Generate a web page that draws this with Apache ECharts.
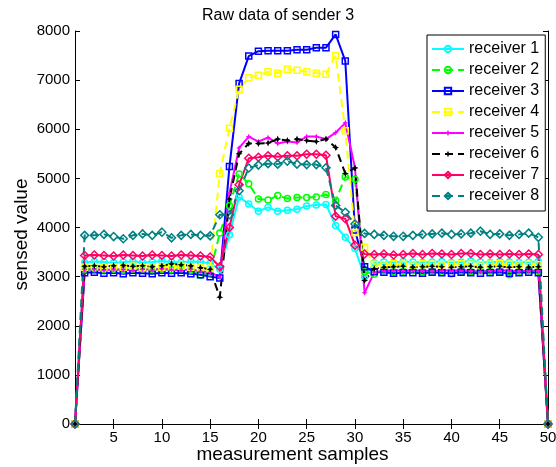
<!DOCTYPE html>
<html>
<head>
<meta charset="utf-8">
<script src="https://cdn.jsdelivr.net/npm/echarts@6/dist/echarts.min.js"></script>
<style>
  html, body { margin: 0; padding: 0; background: #fff; }
  #chart { width: 556px; height: 467px; }
</style>
</head>
<body>
<div id="chart"></div>
<script>
// measurement sample index 1..50
const samples = Array.from({ length: 50 }, (_, i) => i + 1)
const xTicks = [5, 10, 15, 20, 25, 30, 35, 40, 45, 50]

const receiver1 = [0,
  3290, 3310, 3300, 3280, 3300, 3310, 3290, 3300, 3320, 3300, 3290, 3310, 3300, 3270,
  3150, 3850, 4620, 4480, 4330, 4410, 4330, 4350, 4370, 4440, 4460, 4470, 4040, 3800, 3570, 3000,
  3280, 3300, 3290, 3310, 3300, 3290, 3300, 3310, 3290, 3300, 3320, 3300, 3290, 3310, 3300, 3290, 3300, 3310,
  0]
const receiver2 = [0,
  3150, 3160, 3140, 3150, 3130, 3150, 3160, 3140, 3150, 3140, 3160, 3130, 3030, 3080,
  3890, 4450, 5090, 4890, 4580, 4560, 4650, 4590, 4610, 4610, 4620, 4670, 4550, 5030, 4980, 3100,
  3050, 3120, 3100, 3110, 3120, 3100, 3110, 3090, 3060, 3110, 3100, 3120, 3110, 3100, 3040, 3110, 3120, 3110,
  0]
const receiver3 = [0,
  3080, 3090, 3070, 3080, 3060, 3080, 3070, 3060, 3080, 3070, 3080, 3060, 3040, 3000,
  2970, 5240, 6930, 7490, 7590, 7600, 7600, 7600, 7620, 7620, 7660, 7660, 7930, 7390, 3950, 3200,
  3100, 3090, 3070, 3080, 3080, 3070, 3090, 3080, 3070, 3090, 3080, 3070, 3080, 3090, 3070, 3080, 3090, 3080,
  0]
const receiver4 = [0,
  3190, 3200, 3180, 3200, 3190, 3210, 3180, 3200, 3190, 3200, 3210, 3190, 3180, 3170,
  5100, 6020, 6815, 7050, 7100, 7170, 7140, 7220, 7200, 7170, 7140, 7120, 7500, 5970, 3900, 3600,
  3250, 3240, 3260, 3250, 3240, 3260, 3250, 3240, 3250, 3260, 3250, 3240, 3250, 3260, 3250, 3240, 3250, 3240,
  0]
const receiver5 = [0,
  3140, 3150, 3130, 3150, 3140, 3130, 3150, 3140, 3160, 3140, 3130, 3150, 3110, 3090,
  2990, 4700, 5620, 5850, 5750, 5830, 5710, 5750, 5730, 5850, 5850, 5800, 5930, 6130, 5220, 2670,
  3090, 3120, 3130, 3120, 3130, 3120, 3110, 3130, 3120, 3130, 3120, 3100, 3120, 3130, 3120, 3110, 3120, 3120,
  0]
const receiver6 = [0,
  3210, 3220, 3200, 3220, 3230, 3210, 3220, 3200, 3220, 3260, 3240, 3220, 3180, 3150,
  2580, 4580, 5500, 5710, 5710, 5720, 5800, 5770, 5800, 5770, 5750, 5800, 5630, 5100, 5210, 2920,
  3160, 3190, 3200, 3210, 3190, 3200, 3210, 3200, 3190, 3200, 3210, 3190, 3200, 3210, 3190, 3200, 3190, 3200,
  0]
const receiver7 = [0,
  3430, 3440, 3430, 3420, 3440, 3430, 3420, 3440, 3430, 3420, 3440, 3430, 3420, 3400,
  3200, 4000, 4870, 5410, 5430, 5460, 5440, 5460, 5460, 5490, 5490, 5470, 4230, 4180, 3640, 3460,
  3450, 3460, 3440, 3450, 3470, 3450, 3470, 3460, 3450, 3470, 3470, 3450, 3460, 3450, 3460, 3450, 3460, 3450,
  0]
const receiver8 = [0,
  3840, 3840, 3860, 3815, 3770, 3840, 3870, 3840, 3905, 3790, 3840, 3860, 3840, 3830,
  4260, 4260, 4750, 5210, 5270, 5300, 5290, 5350, 5290, 5280, 5280, 5215, 4450, 4310, 4070, 3880,
  3860, 3840, 3820, 3820, 3840, 3860, 3870, 3885, 3860, 3870, 3885, 3925, 3860, 3870, 3840, 3860, 3885, 3800,
  0]

const names = ['receiver 1', 'receiver 2', 'receiver 3', 'receiver 4',
  'receiver 5', 'receiver 6', 'receiver 7', 'receiver 8']
const values = [receiver1, receiver2, receiver3, receiver4,
  receiver5, receiver6, receiver7, receiver8]

const COLORS = ['#00ffff', '#00ff00', '#0000ff', '#ffff00', '#ff00ff', '#000000', '#ff0066', '#008080']
const DASHED = [false, true, false, true, false, true, false, true]
const STAR = 'path://M0,-10 L3,-3 L10,0 L3,3 L0,10 L-3,3 L-10,0 L-3,-3 Z'
const MARKERS = [
  { symbol: 'circle', size: 6, hollow: true },
  { symbol: 'circle', size: 6, hollow: true },
  { symbol: 'rect', size: 6, hollow: true },
  { symbol: 'rect', size: 6, hollow: true },
  { symbol: STAR, size: 6, hollow: false },
  { symbol: STAR, size: 7, hollow: false },
  { symbol: 'diamond', size: 8, hollow: true },
  { symbol: 'diamond', size: 8, hollow: true },
]

const FONT = 'Liberation Sans, Arial, Helvetica, sans-serif'

const chart = echarts.init(document.getElementById('chart'), undefined, { renderer: 'canvas' })

const series = values.map((vals, i) => {
  const m = MARKERS[i]
  return {
    type: 'line',
    name: names[i],
    data: samples.map((x, k) => [x, vals[k]]),
    symbol: m.symbol,
    symbolSize: m.size,
    showSymbol: true,
    lineStyle: { color: COLORS[i], width: 2, type: DASHED[i] ? [8, 5] : 'solid' },
    itemStyle: m.hollow
      ? { color: 'rgba(0,0,0,0)', borderColor: COLORS[i], borderWidth: 1.5 }
      : { color: COLORS[i], borderWidth: 0 },
    emphasis: { disabled: true },
  }
})

const tickStyle = { inside: true, length: 5, lineStyle: { color: '#000', width: 1 } }

chart.setOption({
  animation: false,
  backgroundColor: '#fff',
  title: {
    text: 'Raw data of sender 3',
    left: 'center',
    top: 3,
    textStyle: { fontSize: 16, fontWeight: 'normal', color: '#000', fontFamily: FONT },
  },
  legend: {
    orient: 'vertical',
    left: 427,
    top: 35,
    padding: [6, 6, 7, 4],
    itemWidth: 32,
    itemHeight: 8,
    itemGap: 5,
    borderColor: '#000',
    borderWidth: 1,
    backgroundColor: '#fff',
    textStyle: { fontSize: 16, color: '#000', fontFamily: FONT },
    data: names,
  },
  grid: { left: 75, top: 31, width: 473, height: 393, outerBoundsMode: 'none' },
  xAxis: [{
    type: 'value',
    min: 1,
    max: 50,
    name: 'measurement samples',
    nameLocation: 'middle',
    nameGap: 21,
    nameMoveOverlap: false,
    nameTextStyle: { fontSize: 19, color: '#000', fontFamily: FONT, padding: [0, 38, 0, 0] },
    axisLine: { lineStyle: { color: '#000', width: 1 } },
    axisTick: { ...tickStyle, customValues: xTicks },
    axisLabel: { customValues: xTicks, fontSize: 15, color: '#000', fontFamily: FONT, margin: 6 },
    splitLine: { show: false },
  }, {
    type: 'value',
    position: 'top',
    min: 1,
    max: 50,
    axisLine: { lineStyle: { color: '#000', width: 1 } },
    axisTick: { ...tickStyle, customValues: xTicks },
    axisLabel: { show: false },
    splitLine: { show: false },
  }],
  yAxis: [{
    type: 'value',
    min: 0,
    max: 8000,
    interval: 1000,
    name: 'sensed value',
    nameLocation: 'middle',
    nameGap: 44,
    nameMoveOverlap: false,
    nameTextStyle: { fontSize: 19, color: '#000', fontFamily: FONT, padding: [0, 14, 0, 0] },
    axisLine: { show: true, lineStyle: { color: '#000', width: 1 } },
    axisTick: tickStyle,
    axisLabel: { fontSize: 15, color: '#000', fontFamily: FONT, margin: 5, formatter: v => String(v) },
    splitLine: { show: false },
  }, {
    type: 'value',
    position: 'right',
    min: 0,
    max: 8000,
    interval: 1000,
    axisLine: { show: true, lineStyle: { color: '#000', width: 1 } },
    axisTick: tickStyle,
    axisLabel: { show: false },
    splitLine: { show: false },
  }],
  series: series,
})
</script>
</body>
</html>
